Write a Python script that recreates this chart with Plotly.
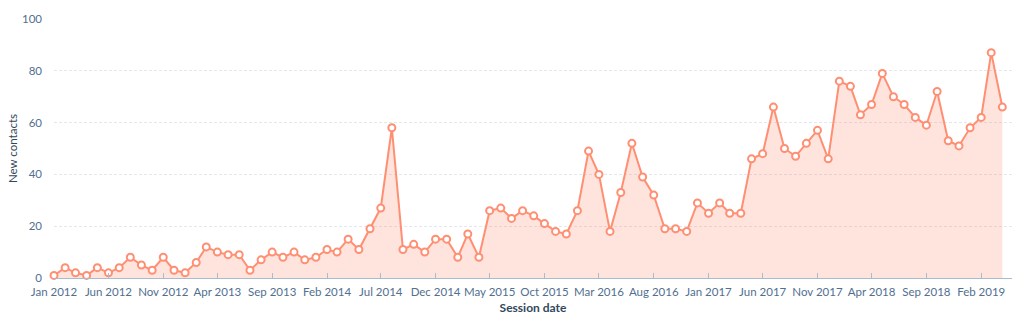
import pandas as pd
import plotly.graph_objects as go

# Monthly new contacts, Jan 2012 - Apr 2019
months = pd.date_range("2012-01-01", "2019-04-01", freq="MS")
contacts_2012 = [1, 4, 2, 1, 4, 2, 4, 8, 5, 3, 8, 3]
contacts_2013 = [2, 6, 12, 10, 9, 9, 3, 7, 10, 8, 10, 7]
contacts_2014 = [8, 11, 10, 15, 11, 19, 27, 58, 11, 13, 10, 15]
contacts_2015 = [15, 8, 17, 8, 26, 27, 23, 26, 24, 21, 18, 17]
contacts_2016 = [26, 49, 40, 18, 33, 52, 39, 32, 19, 19, 18, 29]
contacts_2017 = [25, 29, 25, 25, 46, 48, 66, 50, 47, 52, 57, 46]
contacts_2018 = [76, 74, 63, 67, 79, 70, 67, 62, 59, 72, 53, 51]
contacts_2019 = [58, 62, 87, 66]
new_contacts = (contacts_2012 + contacts_2013 + contacts_2014 + contacts_2015
                + contacts_2016 + contacts_2017 + contacts_2018 + contacts_2019)

y_ticks = [0, 20, 40, 60, 80, 100]

LINE = "#ff8f73"
FILL = "rgba(255,143,115,0.24)"
TEXT = "#516f90"
DARK = "#33475b"
FONT = "Lato, 'Open Sans', sans-serif"

fig = go.Figure(
    go.Scatter(
        x=months,
        y=new_contacts,
        mode="lines+markers",
        fill="tozeroy",
        fillcolor=FILL,
        cliponaxis=False,
        line=dict(color=LINE, width=2),
        marker=dict(size=7, color="white", line=dict(color=LINE, width=2)),
        hoverinfo="x+y",
    )
)

fig.update_layout(
    width=1024,
    height=323,
    margin=dict(l=54, r=12, t=19, b=45),
    paper_bgcolor="white",
    plot_bgcolor="white",
    showlegend=False,
    font=dict(family=FONT, size=11.5, color=TEXT),
)

fig.update_xaxes(
    range=["2012-01-01", "2019-04-28"],
    tick0="2012-01-01",
    dtick="M5",
    tickformat="%b %Y",
    showgrid=False,
    showline=True,
    linecolor="#a8bccf",
    linewidth=1,
    ticks="inside",
    ticklen=5,
    tickcolor="#a8bccf",
    ticklabelstandoff=3,
    automargin=False,
    tickfont=dict(size=11.5, color=TEXT),
    title=dict(text="<b>Session date</b>", font=dict(size=12, color=DARK), standoff=6),
    zeroline=False,
)

fig.update_yaxes(
    range=[0, 100],
    tickvals=y_ticks,
    showgrid=True,
    gridcolor="#e3e7ee",
    griddash="3px,2px",
    gridwidth=1,
    zeroline=False,
    showline=False,
    ticks="",
    ticklabelstandoff=11,
    automargin=False,
    tickfont=dict(size=11.5, color=TEXT),
    title=dict(text="New contacts", font=dict(size=11.5, color=DARK), standoff=1),
)

fig.write_html("out.html")
